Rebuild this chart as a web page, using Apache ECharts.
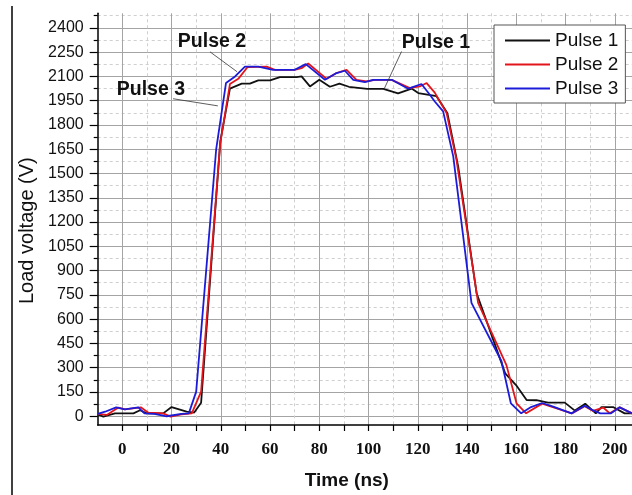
<!DOCTYPE html>
<html>
<head>
<meta charset="utf-8">
<script src="https://cdn.jsdelivr.net/npm/echarts@6/dist/echarts.min.js"></script>
<style>
  html, body { margin: 0; padding: 0; background: #fff; }
  #chart { width: 632px; height: 495px; }
</style>
</head>
<body>
<div id="chart"></div>
<script>
// Series names and colours
const seriesNames = ['Pulse 1', 'Pulse 2', 'Pulse 3'];
const seriesColors = ['#111111', '#e3151c', '#1c1cd8'];

// Pulse 1: time (ns) and load voltage (V)
const pulse1Time = [-10, -7.7, -3, 4.5, 7.2, 9.9, 16.6, 20, 26.1, 29.2,
  32, 39.8, 43.7, 48.5, 51.8, 55.2, 60, 64, 70.8, 72.8,
  76.2, 80, 84.3, 88.2, 92, 99.5, 106, 112, 117.5, 120.2,
  127.6, 132, 136.4, 143.9, 155.5, 159.9, 164.2, 168.2, 172.9, 179.7,
  183.8, 188, 192.3, 194.6, 199.3, 204, 207];
const pulse1Volt = [12, -2, 18, 18, 37, 18, 18, 57, 29, 23,
  84, 1700, 2025, 2055, 2055, 2075, 2075, 2096, 2096, 2100,
  2038, 2079, 2036, 2056, 2036, 2023, 2023, 1995, 2025, 1997,
  1978, 1874, 1544, 760, 265, 193, 100, 99, 84, 84,
  35, 78, 18, 57, 57, 18, 18];

// Pulse 2
const pulse2Time = [-10, -6.3, -1.6, 1.1, 7.5, 10.6, 16.6, 19.6, 24, 28.2,
  32, 39.7, 43.7, 47.1, 50.9, 58.6, 62, 70, 72.8, 75.5,
  83, 87, 91.1, 95.1, 99.2, 102.6, 109.4, 116.8, 120.8, 123.6,
  126.9, 131.7, 135.7, 144.5, 156, 160.1, 164, 170.5, 182.6, 187.8,
  191.2, 195.3, 198, 202, 207];
const pulse2Volt = [15, 8, 54, 43, 55, 22, 18, -2, 12, 18,
  152, 1680, 2053, 2085, 2158, 2161, 2141, 2141, 2151, 2180,
  2085, 2121, 2141, 2079, 2069, 2079, 2079, 2028, 2038, 2059,
  2000, 1874, 1586, 700, 316, 80, 18, 78, 18, 62,
  33, 54, 18, 55, 18];

// Pulse 3
const pulse3Time = [-10, -7, -2.5, 1, 6.5, 9, 13, 18, 24, 27,
  30, 38.1, 42.1, 45.8, 49.8, 55.2, 61.2, 70, 74.5, 82.3,
  87, 90.4, 93.8, 98.5, 101.9, 109.4, 116.1, 121.5, 124.9, 126.9,
  130.3, 134.4, 141.8, 154, 157.8, 162, 166, 170.5, 175, 182.4,
  187.8, 190.3, 194.1, 198.5, 202, 207];
const pulse3Volt = [15, 28, 55, 43, 55, 18, 15, 0, 15, 18,
  152, 1647, 2059, 2100, 2160, 2160, 2141, 2141, 2176, 2079,
  2121, 2135, 2079, 2065, 2079, 2079, 2024, 2053, 1987, 1945,
  1884, 1606, 701, 340, 80, 18, 57, 82, 60, 18,
  65, 43, 18, 18, 55, 18];

// Tick values
const xMajorTicks = [0, 20, 40, 60, 80, 100, 120, 140, 160, 180, 200];
const xMinorTicks = [10, 30, 50, 70, 90, 110, 130, 150, 170, 190];
const yMajorTicks = [0, 150, 300, 450, 600, 750, 900, 1050, 1200, 1350, 1500,
  1650, 1800, 1950, 2100, 2250, 2400];
const yMinorTicks = [75, 225, 375, 525, 675, 825, 975, 1125, 1275, 1425, 1575,
  1725, 1875, 2025, 2175, 2325, 2475];

// Callout labels with leader lines (data coordinates)
const callouts = [
  { text: 'Pulse 2', at: [36.4, 2316], from: [35.6, 2252], to: [46.6, 2129] },
  { text: 'Pulse 3', at: [11.6, 2017], from: [20.6, 1962], to: [38.8, 1918] },
  { text: 'Pulse 1', at: [127.4, 2308], from: [113.4, 2254], to: [106.2, 2018] }
];

const X_MIN = -10, X_MAX = 207, Y_MIN = -54, Y_MAX = 2490;

function pairs(t, v) { return t.map((x, i) => [x, v[i]]); }
const seriesData = [
  pairs(pulse1Time, pulse1Volt),
  pairs(pulse2Time, pulse2Volt),
  pairs(pulse3Time, pulse3Volt)
];

const sans = 'Liberation Sans, Arial, sans-serif';
const serif = 'Liberation Serif, Times New Roman, serif';
const majorGrid = { color: '#a4a4a4', width: 1 };
const minorGrid = { color: '#cfcfcf', width: 1, type: [3, 3] };

const chart = echarts.init(document.getElementById('chart'), null, { renderer: 'canvas' });

chart.setOption({
  animation: false,
  backgroundColor: '#fff',
  grid: { left: 97.7, top: 13.3, right: 0, bottom: 69.3, containLabel: false },
  xAxis: [
    {
      type: 'value', min: X_MIN, max: X_MAX, position: 'bottom',
      axisLine: { show: true, onZero: false, lineStyle: { color: '#000', width: 1.5 } },
      axisTick: { show: true, customValues: xMajorTicks, length: 6, lineStyle: { color: '#000', width: 1.2 } },
      axisLabel: { customValues: xMajorTicks, formatter: v => String(v),
        fontFamily: serif, fontWeight: 'bold', fontSize: 17, color: '#111', margin: 16 },
      splitLine: { show: true, lineStyle: majorGrid },
      name: 'Time (ns)', nameLocation: 'middle', nameGap: 46,
      nameTextStyle: { fontFamily: sans, fontWeight: 'bold', fontSize: 19, color: '#111', padding: [0, 36, 0, 0] }
    },
    {
      type: 'value', min: X_MIN, max: X_MAX, position: 'bottom', offset: 0,
      axisLine: { show: false, onZero: false },
      axisTick: { show: true, customValues: xMinorTicks, length: 6, lineStyle: { color: '#000', width: 1.2 } },
      axisLabel: { show: false },
      splitLine: { show: true, lineStyle: minorGrid }
    }
  ],
  yAxis: [
    {
      type: 'value', min: Y_MIN, max: Y_MAX, position: 'left',
      axisLine: { show: true, onZero: false, lineStyle: { color: '#000', width: 1.5 } },
      axisTick: { show: true, customValues: yMajorTicks, length: 8, lineStyle: { color: '#000', width: 1.2 } },
      axisLabel: { customValues: yMajorTicks, formatter: v => String(v),
        fontFamily: sans, fontSize: 16, color: '#111', margin: 14 },
      splitLine: { show: true, lineStyle: majorGrid },
      name: 'Load voltage (V)', nameLocation: 'middle', nameGap: 54, nameRotate: 90,
      nameTextStyle: { fontFamily: sans, fontSize: 20, color: '#111', padding: [0, 23, 0, 0] }
    },
    {
      type: 'value', min: Y_MIN, max: Y_MAX, position: 'left', offset: 0,
      axisLine: { show: false, onZero: false },
      axisTick: { show: true, customValues: yMinorTicks, length: 4, lineStyle: { color: '#000', width: 1.2 } },
      axisLabel: { show: false },
      splitLine: { show: true, lineStyle: minorGrid }
    }
  ],
  legend: {
    data: seriesNames, orient: 'vertical', left: 494, top: 25,
    icon: 'rect', itemWidth: 45, itemHeight: 2, itemGap: 5,
    padding: [6, 7, 5, 11],
    borderColor: '#555', borderWidth: 1, borderRadius: 0, backgroundColor: '#fff',
    textStyle: { fontFamily: sans, fontSize: 19, color: '#111', lineHeight: 19 }
  },
  series: seriesNames.map((name, i) => ({
    name, type: 'line', xAxisIndex: 0, yAxisIndex: 0,
    data: seriesData[i], symbol: 'none', showSymbol: false,
    lineStyle: { color: seriesColors[i], width: 1.8 },
    itemStyle: { color: seriesColors[i] },
    z: 3 + i
  }))
});

// Callout texts, leader lines and the page's left rule
const px = p => chart.convertToPixel({ xAxisIndex: 0, yAxisIndex: 0 }, p);
const graphics = [{
  type: 'line', shape: { x1: 12, y1: 6, x2: 12, y2: 495 },
  style: { stroke: '#000', lineWidth: 1.5 }, z: 20
}];
callouts.forEach(c => {
  const a = px(c.from), b = px(c.to), t = px(c.at);
  graphics.push({
    type: 'line', shape: { x1: a[0], y1: a[1], x2: b[0], y2: b[1] },
    style: { stroke: '#333', lineWidth: 0.8 }, z: 20
  });
  graphics.push({
    type: 'text', x: t[0], y: t[1],
    style: { text: c.text, fill: '#111', font: 'bold 19.5px ' + sans, align: 'center', verticalAlign: 'middle' },
    z: 21
  });
});
chart.setOption({ graphic: graphics });
</script>
</body>
</html>
